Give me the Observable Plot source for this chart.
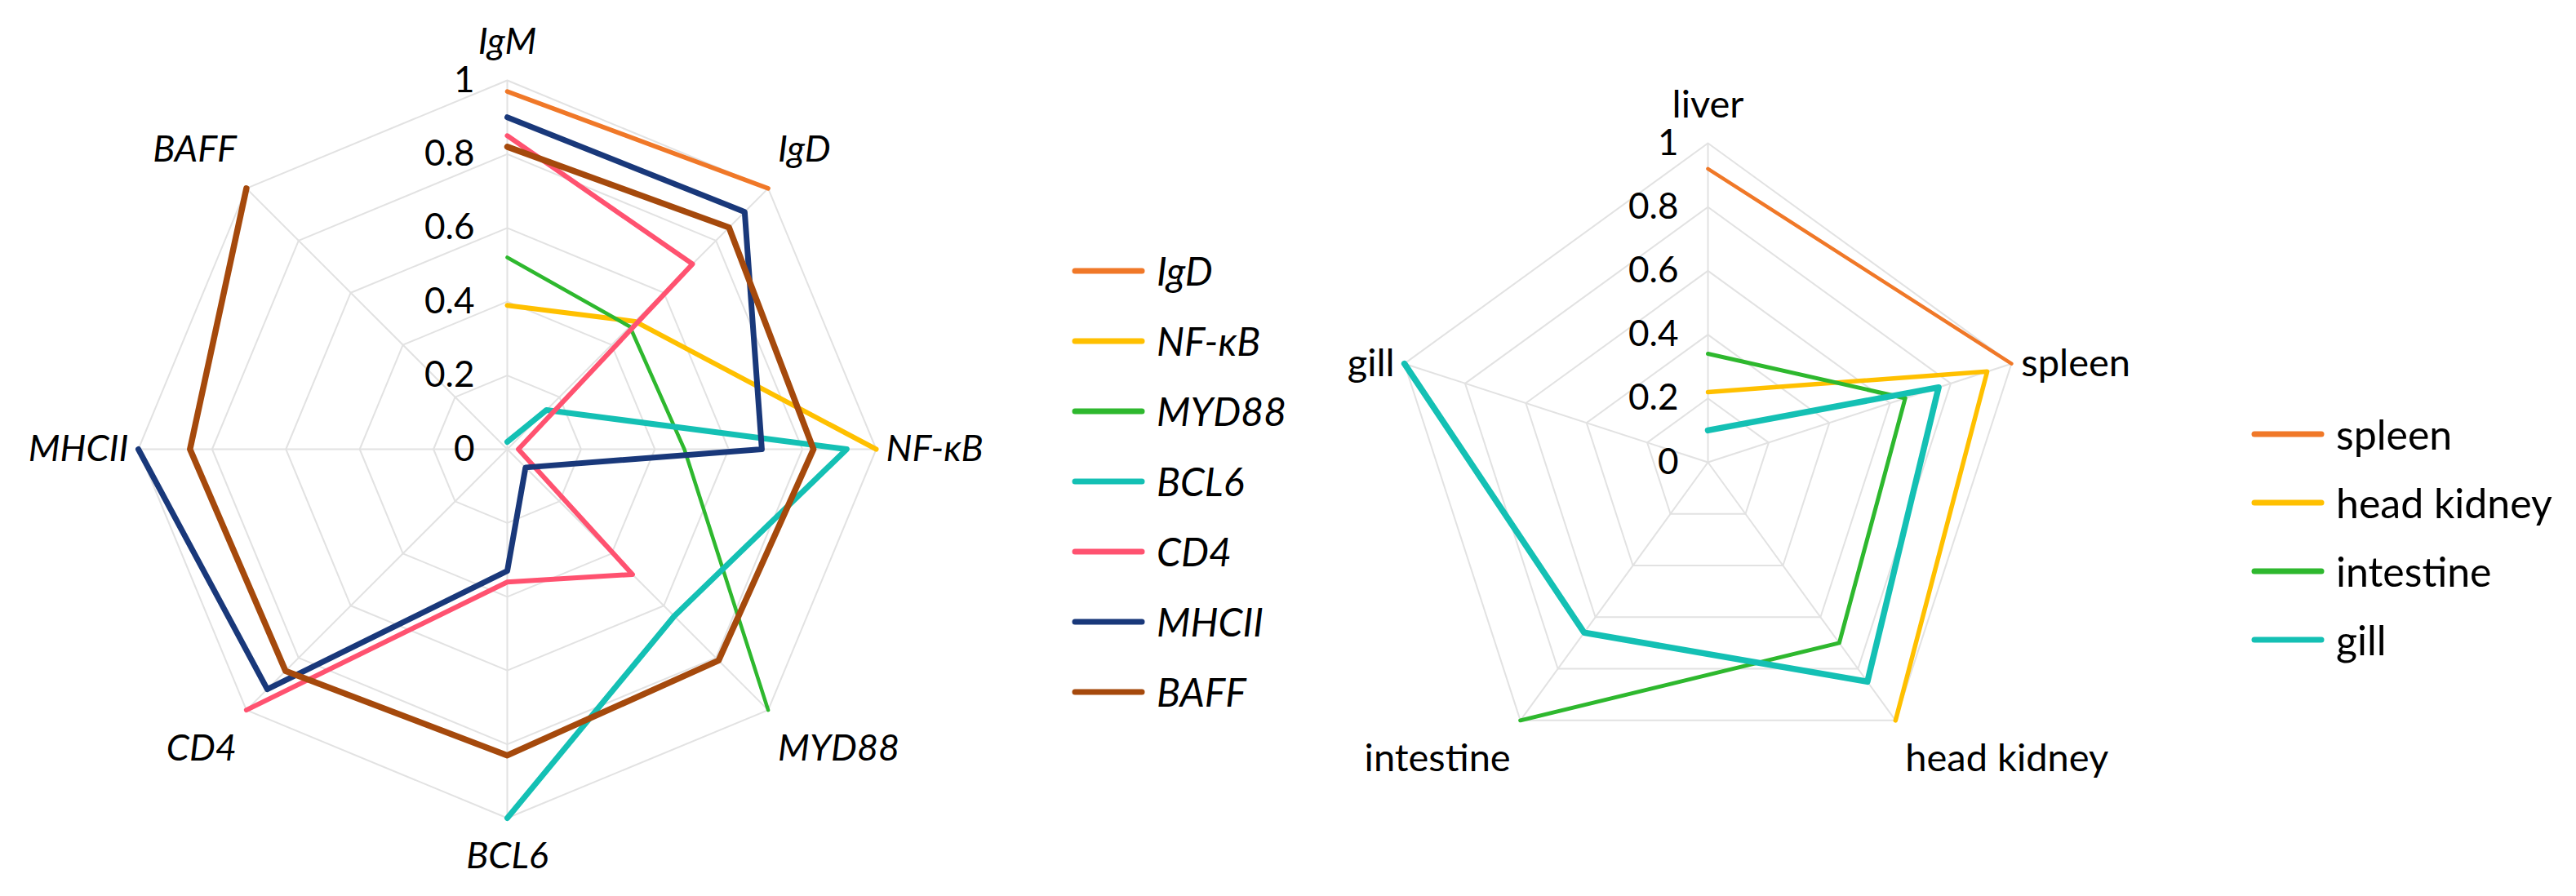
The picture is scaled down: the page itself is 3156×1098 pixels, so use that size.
<!DOCTYPE html>
<html><head><meta charset="utf-8">
<script src="https://cdn.jsdelivr.net/npm/d3@7"></script>
<script src="https://cdn.jsdelivr.net/npm/@observablehq/plot@0.6"></script>
<style>
html,body{margin:0;padding:0;background:#fff;}
#fig{position:relative;width:3156px;height:1098px;overflow:hidden;font-family:Lato,sans-serif;color:#000;}
.panel{position:absolute;top:0;}
.row{position:absolute;display:flex;align-items:center;white-space:nowrap;height:60px;}
.row svg{display:block;}
</style></head><body><div id="fig"></div>
<script>
// ---------- data: left radar (genes) ----------
const geneAxes = ["IgM", "IgD", "NF-κB", "MYD88", "BCL6", "CD4", "MHCII", "BAFF"];
const geneSeries = ["IgD", "NF-κB", "MYD88", "BCL6", "CD4", "MHCII", "BAFF"];
const sIgD   = [0.97, 1];
const sNFkB  = [0.39, 0.49, 1];
const sMYD88 = [0.52, 0.47, 0.48, 1];
const sBCL6  = [0.02, 0.15, 0.92, 0.64, 1];
const sCD4   = [0.85, 0.71, 0.03, 0.48, 0.36, 1];
const sMHCII = [0.90, 0.91, 0.69, 0.07, 0.33, 0.92, 1];
const sBAFF  = [0.82, 0.85, 0.83, 0.81, 0.83, 0.85, 0.86, 1];

// ---------- data: right radar (tissues) ----------
const tissueAxes = ["liver", "spleen", "head kidney", "intestine", "gill"];
const tissueSeries = ["spleen", "head kidney", "intestine", "gill"];
const tSpleen    = [0.92, 1];
const tHeadKid   = [0.22, 0.92, 1];
const tIntestine = [0.34, 0.65, 0.70, 1];
const tGill      = [0.10, 0.76, 0.85, 0.66, 1];

const tickValues = [0, 0.2, 0.4, 0.6, 0.8, 1];
const tickLabels = ["0", "0.2", "0.4", "0.6", "0.8", "1"];

// ---------- styles ----------
const geneColors = ["#F07828", "#FFC000", "#2EB82E", "#14C0B4", "#FF5270", "#19387A", "#A5490C"];
const geneWidths = [5.5, 6, 4.5, 7, 6, 7, 7.5];
const tissueColors = ["#F07828", "#FFC000", "#2EB82E", "#14C0B4"];
const tissueWidths = [4.5, 5.5, 5, 7.5];
const gridColor = "#e2e2e2";

function radar({axes, seriesNames, seriesValues, colors, widths, width, height, cx, cy, R, italic, labelSize, tickDx}) {
  const n = axes.length;
  const ang = i => i * 2 * Math.PI / n;
  const px = (r, i) => r * Math.sin(ang(i));
  const py = (r, i) => r * Math.cos(ang(i));
  const levels = tickValues.filter(v => v > 0);
  const gridPts = levels.flatMap(l => d3.range(n + 1).map(i => ({l, i: i % n})));
  const rows = seriesNames.map((s, k) => seriesValues[k].map((v, j) => ({s, j, v})));
  const ticks = tickValues.map((v, k) => ({v, label: tickLabels[k]}));
  const marks = [
    Plot.line(gridPts, {x: d => px(d.l, d.i), y: d => py(d.l, d.i), z: "l", stroke: gridColor, strokeWidth: 2}),
    Plot.link(axes, {x1: () => 0, y1: () => 0, x2: (d, i) => px(1, i), y2: (d, i) => py(1, i), stroke: gridColor, strokeWidth: 2}),
    ...rows.map((r, k) => Plot.line(r, {x: d => px(d.v, d.j), y: d => py(d.v, d.j), stroke: colors[k], strokeWidth: widths[k], strokeLinejoin: "round", strokeLinecap: "round"})),
    Plot.text(ticks, {x: () => 0, y: d => d.v, text: "label", textAnchor: "end", dx: tickDx, fontSize: 44, fill: "#000"}),
    ...axes.map((a, i) => {
      const s = Math.sin(ang(i)), c = Math.cos(ang(i));
      const anchor = Math.abs(s) < 0.1 ? "middle" : (s > 0 ? "start" : "end");
      const dx = Math.abs(s) < 0.1 ? 0 : Math.sign(s) * 12;
      const dy = Math.abs(c) > 0.5 ? -Math.sign(c) * 47 : 0;
      return Plot.text([a], {x: () => px(1, i), y: () => py(1, i), text: d => d, textAnchor: anchor, dx, dy,
        fontSize: labelSize, fontStyle: italic ? "italic" : "normal", fill: "#000"});
    })
  ];
  return Plot.plot({
    width, height, margin: 0,
    x: {domain: [-cx / R, (width - cx) / R], axis: null},
    y: {domain: [-(height - cy) / R, cy / R], axis: null},
    style: {fontFamily: "Lato, sans-serif", background: "transparent", overflow: "visible"},
    marks
  });
}

const fig = document.getElementById("fig");

const left = radar({
  axes: geneAxes, seriesNames: geneSeries,
  seriesValues: [sIgD, sNFkB, sMYD88, sBCL6, sCD4, sMHCII, sBAFF],
  colors: geneColors, widths: geneWidths,
  width: 1250, height: 1098, cx: 621, cy: 550, R: 452, italic: true, labelSize: 45, tickDx: -40
});
left.classList.add("panel"); left.style.left = "0px";
fig.appendChild(left);

const right = radar({
  axes: tissueAxes, seriesNames: tissueSeries,
  seriesValues: [tSpleen, tHeadKid, tIntestine, tGill],
  colors: tissueColors, widths: tissueWidths,
  width: 1000, height: 1098, cx: 492, cy: 566, R: 391, italic: false, labelSize: 47, tickDx: -36
});
right.classList.add("panel"); right.style.left = "1600px";
fig.appendChild(right);

function legend(names, colors, x, y0, step, fontSize, italic) {
  names.forEach((name, k) => {
    const row = document.createElement("div");
    row.className = "row";
    row.style.left = x + "px";
    row.style.top = (y0 + k * step - 30) + "px";
    row.innerHTML = `<svg width="90" height="12"><line x1="4" y1="6" x2="86" y2="6" stroke="${colors[k]}" stroke-width="7" stroke-linecap="round"/></svg>`;
    const span = document.createElement("span");
    span.textContent = name;
    span.style.fontSize = fontSize + "px";
    span.style.fontStyle = italic ? "italic" : "normal";
    span.style.marginLeft = "14px";
    span.style.lineHeight = "60px";
    row.appendChild(span);
    fig.appendChild(row);
  });
}
legend(geneSeries, geneColors, 1313, 332, 86, 48, true);
legend(tissueSeries, tissueColors, 2758, 532, 84, 50, false);
</script>
</body></html>
